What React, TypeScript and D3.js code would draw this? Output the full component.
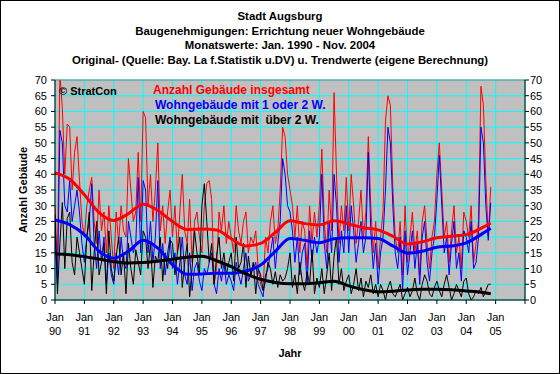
import React from 'react';
import * as d3 from 'd3';

const titleLines = [
  'Stadt Augsburg',
  'Baugenehmigungen: Errichtung neuer Wohngebäude',
  'Monatswerte: Jan. 1990 - Nov. 2004',
  'Original- (Quelle: Bay. La f.Statistik u.DV) u. Trendwerte (eigene Berechnung)',
];
const yearLabels = ['90', '91', '92', '93', '94', '95', '96', '97', '98', '99', '00', '01', '02', '03', '04', '05'];
const yTicks = [0, 5, 10, 15, 20, 25, 30, 35, 40, 45, 50, 55, 60, 65, 70];

// Monthly values Jan 1990 - Nov 2004
const redValues: number[] = [
  30, 10, 72, 61, 40, 56, 55, 35, 47, 52, 38, 25,
  20, 30, 35, 39, 25, 18, 35, 22, 28, 15, 30, 20,
  10, 28, 18, 30, 22, 20, 45, 35, 25, 28, 47, 25,
  60, 58, 30, 40, 25, 35, 50, 22, 30, 18, 28, 35,
  20, 30, 15, 28, 40, 22, 18, 32, 12, 25, 28, 20,
  15, 30, 37, 38, 32, 5, 10, 28, 22, 30, 18, 25,
  20, 15, 30, 22, 18, 25, 28, 15, 20, 18, 22, 10,
  5, 3, 20, 15, 25, 30, 18, 22, 35, 55, 52, 40,
  35, 30, 20, 30, 15, 25, 22, 10, 30, 18, 28, 20,
  30, 48, 25, 15, 35, 22, 66, 40, 18, 30, 22, 39,
  22, 40, 30, 18, 25, 35, 20, 28, 52, 30, 15, 25,
  10, 20, 28, 57, 65, 62, 36, 20, 15, 25, 8, 30,
  12, 20, 28, 15, 22, 8, 25, 30, 18, 10, 20, 25,
  40, 50, 35, 20, 25, 12, 22, 30, 15, 20, 10, 28,
  25, 20, 30, 12, 18, 25, 68, 62, 38, 20, 36,
];
const blueValues: number[] = [
  20, 5, 54, 50, 30, 28, 38, 25, 30, 35, 28, 18,
  12, 20, 25, 37, 18, 10, 22, 12, 20, 5, 15, 8,
  5, 15, 8, 20, 12, 10, 25, 20, 15, 18, 39, 15,
  38, 35, 15, 25, 12, 20, 38, 10, 18, 8, 15, 20,
  10, 15, 5, 12, 20, 8, 5, 15, 3, 10, 12, 6,
  3, 10, 8, 12, 15, 5, 2, 10, 6, 12, 5, 8,
  6, 3, 12, 8, 5, 10, 15, 6, 8, 10, 12, 5,
  3, 1, 8, 10, 15, 20, 10, 18, 25, 45, 40, 30,
  28, 22, 12, 20, 8, 15, 18, 5, 22, 12, 20, 15,
  20, 40, 18, 10, 25, 15, 40, 30, 12, 22, 15, 30,
  15, 30, 22, 12, 18, 25, 15, 20, 47, 22, 10, 18,
  5, 15, 20, 35, 55, 50, 30, 15, 10, 20, 3, 22,
  8, 15, 22, 10, 18, 5, 20, 25, 12, 6, 15, 20,
  32, 46, 30, 15, 20, 8, 18, 25, 10, 15, 6, 22,
  20, 15, 25, 10, 12, 20, 55, 50, 30, 19, 31,
];
const blackValues: number[] = [
  27, 2, 18, 31, 10, 26, 28, 12, 8, 20, 15, 10,
  5, 20, 28, 3, 15, 25, 8, 12, 18, 2, 22, 10,
  6, 14, 20, 8, 15, 2, 18, 10, 5, 16, 12, 8,
  22, 20, 10, 18, 4, 14, 12, 20, 6, 15, 10, 19,
  18, 8, 15, 20, 4, 12, 18, 1, 10, 22, 15, 8,
  30, 37, 25, 12, 18, 5, 14, 20, 10, 15, 8, 12,
  15, 6, 20, 10, 12, 18, 4, 14, 8, 12, 2, 10,
  8, 3, 6, 12, 10, 5, 9, 4, 8, 6, 7, 10,
  15, 4, 8, 2, 12, 6, 3, 9, 5, 16, 2, 7,
  4, 10, 2, 8, 15, 3, 14, 20, 5, 10, 3, 6,
  8, 2, 5, 10, 3, 7, 1, 6, 4, 8, 2, 5,
  1, 5, 3, 0, 4, 6, 2, 1, 3, 5, 0, 2,
  4, 1, 3, 7, 2, 0, 5, 8, 6, 2, 1, 4,
  6, 3, 1, 5, 8, 4, 0, 2, 5, 3, 1, 6,
  7, 2, 0, 1, 3, 2, 4, 1, 3, 5, 5,
];

// Trend values read every Jan / Jul (month index), last = Nov 2004
const trendMonths = [0, 6, 12, 18, 24, 30, 36, 42, 48, 54, 60, 66, 72, 78, 84, 90, 96, 102, 108, 114, 120, 126, 132, 138, 144, 150, 156, 162, 168, 174, 178];
const redTrend = [40.4, 38.4, 33.5, 27.8, 25.3, 27.5, 30.5, 28.5, 25, 22.4, 22.6, 22.3, 19.5, 17.2, 18, 21.5, 25.2, 24.3, 23.9, 25.2, 24.2, 23, 22.3, 20.3, 17.8, 18.5, 19.8, 20.3, 20.8, 22.8, 24.5];
const blueTrend = [25.5, 24, 20.8, 15.5, 13.3, 15.5, 19, 16.5, 11.2, 8.2, 8.3, 8.5, 8.5, 9.2, 11.1, 15.5, 19.6, 19, 18.2, 19.5, 19.8, 19.8, 19.6, 17.2, 14.9, 15.5, 16.8, 17.2, 18.2, 20.8, 22.8];
const blackTrend = [14.6, 14.4, 13.8, 13, 12.2, 11.8, 11.9, 12.3, 13, 13.6, 13.9, 12.5, 10.6, 8.3, 6.6, 5.6, 5.2, 5.2, 5.5, 6.0, 4.5, 3.3, 2.6, 2.8, 3.2, 3.4, 3.4, 3.3, 2.9, 2.5, 2.0];

const FONT = '"Liberation Sans", Arial, sans-serif';

export default function App() {
  const W = 560, H = 374;
  const L = 55, R = 525, T = 80, B = 300;
  const x = d3.scaleLinear().domain([0, 192]).range([L, R]);
  const y = d3.scaleLinear().domain([0, 70]).range([B, T]);
  const raw = d3.line<number>().x((_, i) => x(i)).y(d => y(d));
  const trend = d3.line<number>().x((_, i) => x(trendMonths[i])).y(d => y(d)).curve(d3.curveMonotoneX);
  const years = d3.range(0, 17).map(k => k * 12);

  return (
    <svg width={W} height={H} style={{ position: 'fixed', left: 0, top: 0, background: '#fff' }} fontFamily={FONT}>
      <defs>
        <clipPath id="plot"><rect x={L} y={T} width={R - L} height={B - T} /></clipPath>
      </defs>
      <rect x={0.5} y={0.5} width={W - 1} height={H - 1} fill="#fff" stroke="#000" />
      {titleLines.map((t, i) => (
        <text key={i} x={280} y={20 + i * 14.6} textAnchor="middle" fontSize={11.4} fontWeight="bold">{t}</text>
      ))}
      <rect x={L} y={T} width={R - L} height={B - T} fill="#C0C0C0" />
      {yTicks.map(v => (
        <line key={'h' + v} x1={L} x2={R} y1={y(v)} y2={y(v)} stroke="#00FFFF" strokeWidth={1} />
      ))}
      {years.map(m => (
        <line key={'v' + m} x1={x(m)} x2={x(m)} y1={T} y2={B} stroke="#00FFFF" strokeWidth={1} />
      ))}
      <g clipPath="url(#plot)" fill="none" strokeLinejoin="round">
        <path d={raw(redValues) || ''} stroke="#FF0000" strokeWidth={1} />
        <path d={raw(blueValues) || ''} stroke="#0000FF" strokeWidth={1} />
        <path d={raw(blackValues) || ''} stroke="#000" strokeWidth={1} />
        <path d={trend(redTrend) || ''} stroke="#FF0000" strokeWidth={3} />
        <path d={trend(blueTrend) || ''} stroke="#0000FF" strokeWidth={3} />
        <path d={trend(blackTrend) || ''} stroke="#000" strokeWidth={3} />
      </g>
      <line x1={L} x2={R} y1={T} y2={T} stroke="#808080" />
      <line x1={L} x2={L} y1={T} y2={B} stroke="#000" />
      <line x1={R} x2={R} y1={T} y2={B} stroke="#000" />
      <line x1={L} x2={R} y1={B} y2={B} stroke="#000" />
      {yTicks.map(v => (
        <g key={'t' + v}>
          <line x1={L - 4} x2={L} y1={y(v)} y2={y(v)} stroke="#000" />
          <line x1={R} x2={R + 4} y1={y(v)} y2={y(v)} stroke="#000" />
          <text x={L - 8} y={y(v) + 4} textAnchor="end" fontSize={11}>{v}</text>
          <text x={R + 5} y={y(v) + 4} textAnchor="start" fontSize={11}>{v}</text>
        </g>
      ))}
      {years.map((m, i) => (
        <g key={'x' + m}>
          <line x1={x(m)} x2={x(m)} y1={B} y2={B + 4} stroke="#000" />
          {i < yearLabels.length && (
            <>
              <text x={x(m)} y={321} textAnchor="middle" fontSize={11}>Jan</text>
              <text x={x(m)} y={335} textAnchor="middle" fontSize={11}>{yearLabels[i]}</text>
            </>
          )}
        </g>
      ))}
      <text x={59} y={95} fontSize={11} fontWeight="bold">© StratCon</text>
      <text x={153} y={94} fontSize={12} fontWeight="bold" fill="#FF0000">Anzahl Gebäude insgesamt</text>
      <text x={155} y={109} fontSize={12} fontWeight="bold" fill="#0000FF">Wohngebäude mit 1 oder 2 W.</text>
      <text x={155} y={124} fontSize={12} fontWeight="bold" fill="#000" style={{ whiteSpace: 'pre' }}>Wohngebäude mit  über 2 W.</text>
      <text transform="translate(27,190) rotate(-90)" textAnchor="middle" fontSize={11} fontWeight="bold">Anzahl Gebäude</text>
      <text x={290} y={357} textAnchor="middle" fontSize={11} fontWeight="bold">Jahr</text>
    </svg>
  );
}
